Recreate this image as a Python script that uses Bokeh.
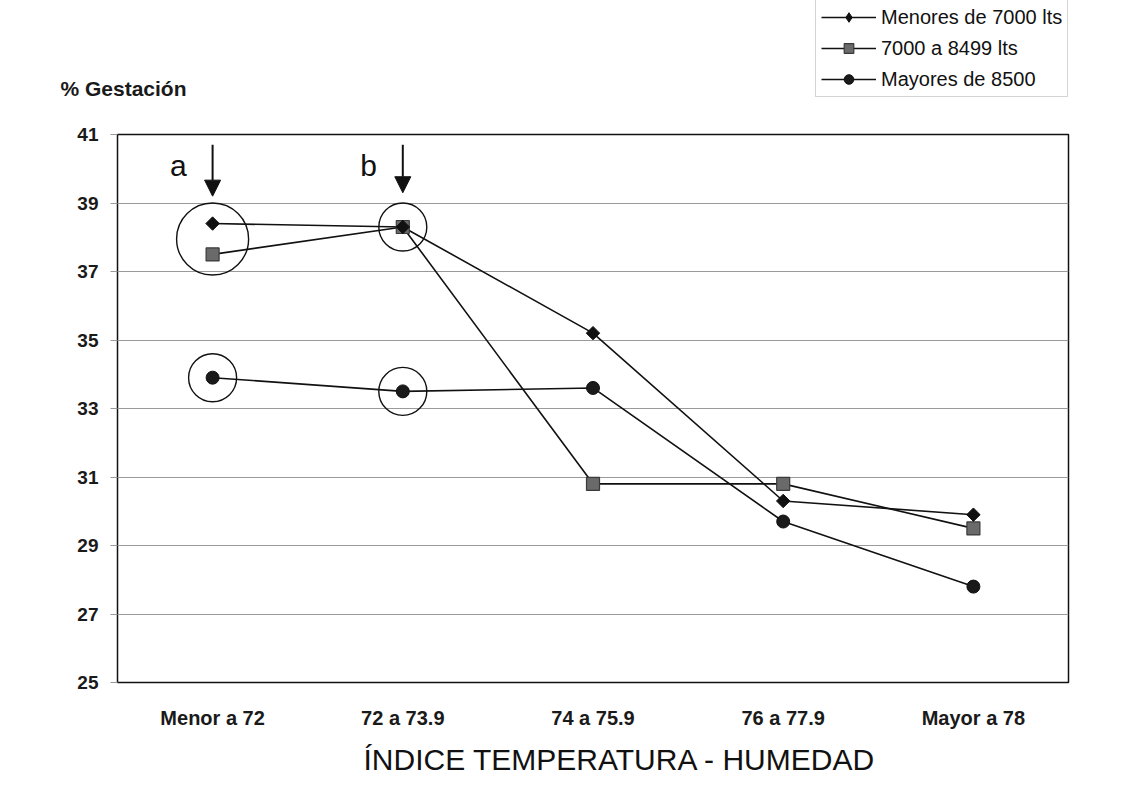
import math
from bokeh.plotting import figure
from bokeh.layouts import column
from bokeh.models import (FactorRange, Range1d, FixedTicker, Label, Arrow,
                          NormalHead, Legend, LegendItem, Title)
from bokeh.embed import file_html
from bokeh.resources import INLINE

# ---------------- data ----------------
categories = ["Menor a 72", "72 a 73.9", "74 a 75.9", "76 a 77.9", "Mayor a 78"]
menores_7000 = [38.4, 38.3, 35.2, 30.3, 29.9]
de_7000_a_8499 = [37.5, 38.3, 30.8, 30.8, 29.5]
mayores_8500 = [33.9, 33.5, 33.6, 29.7, 27.8]
series_names = ["Menores de 7000 lts", "7000 a 8499 lts", "Mayores de 8500"]
y_ticks = [25, 27, 29, 31, 33, 35, 37, 39, 41]
y_title = "% Gestación"
x_title = "ÍNDICE TEMPERATURA - HUMEDAD"
group_labels = ["a", "b"]

FONT = "Liberation Sans"
W = 1132
TOP_H = 122
MAIN_H = 811 - TOP_H
ML, MR, MT, MB = 117, 64, 12, 129

LINE = "#111111"
all_series = (menores_7000, de_7000_a_8499, mayores_8500)
main_styles = [dict(marker="square", angle=math.pi / 4, size=9.5, fill_color="#111111", line_color="#111111", line_width=1),
               dict(marker="square", angle=0.0, size=13, fill_color="#6a6a6a", line_color="#3a3a3a", line_width=1.2),
               dict(marker="circle", angle=0.0, size=13, fill_color="#1a1a1a", line_color="#111111", line_width=1)]
legend_styles = [dict(marker="diamond", size=15, fill_color="#111111", line_color="#111111", line_width=1),
                 dict(marker="square", size=12, fill_color="#6a6a6a", line_color="#3a3a3a", line_width=1.2),
                 dict(marker="circle", size=13, fill_color="#1a1a1a", line_color="#111111", line_width=1)]

# ---------------- header strip (y title + legend) ----------------
# x range of the strip lies away from the series index positions, so the
# legend renderers hold real data but draw nothing inside the strip
top = figure(width=W, height=TOP_H, x_range=Range1d(100, 101), y_range=Range1d(TOP_H, 0),
             x_axis_type=None, output_backend="svg",
             toolbar_location=None, min_border=0)
top.outline_line_color = None
top.grid.visible = False
top.background_fill_color = "white"
top.border_fill_color = "white"
# the y-title is drawn as the single tick label of the strip's own axis
top.yaxis.ticker = FixedTicker(ticks=[88])
top.yaxis.major_label_overrides = {88: y_title}
top.yaxis.axis_line_color = None
top.yaxis.major_tick_line_color = None
top.yaxis.minor_tick_line_color = None
top.yaxis.major_tick_out = 0
top.yaxis.major_tick_in = 0
top.yaxis.major_label_standoff = -69
top.yaxis.major_label_text_font = FONT
top.yaxis.major_label_text_font_size = "21px"
top.yaxis.major_label_text_font_style = "bold"
top.yaxis.major_label_text_color = "#1a1a1a"

idx = list(range(len(categories)))
items = []
for name, vals, st in zip(series_names, all_series, legend_styles):
    lr = top.line(x=idx, y=vals, line_color=LINE, line_width=1.6)
    sr = top.scatter(x=idx, y=vals, **st)
    items.append(LegendItem(label=name, renderers=[lr, sr]))

legend = Legend(items=items, location=(698, TOP_H - 97), orientation="vertical")
legend.label_text_font = FONT
legend.label_text_font_size = "20px"
legend.label_text_color = "#111111"
legend.glyph_width = 55
legend.glyph_height = 24
legend.label_height = 24
legend.label_standoff = 5
legend.spacing = 7
legend.padding = 5
legend.margin = 0
legend.border_line_color = "#aaaaaa"
legend.border_line_width = 1
legend.background_fill_color = "white"
legend.background_fill_alpha = 1
top.add_layout(legend)

# ---------------- main chart ----------------
p = figure(width=W, height=MAIN_H,
           x_range=FactorRange(*categories), y_range=Range1d(y_ticks[0], y_ticks[-1]),
           output_backend="svg", toolbar_location=None,
           min_border_left=ML, min_border_right=MR,
           min_border_top=MT, min_border_bottom=MB)

p.background_fill_color = "white"
p.border_fill_color = "white"
p.outline_line_color = LINE
p.outline_line_width = 1.5

p.xgrid.visible = False
p.ygrid.grid_line_color = "#9a9a9a"
p.ygrid.grid_line_width = 1

p.yaxis.ticker = FixedTicker(ticks=y_ticks)
p.yaxis.axis_line_color = None
p.yaxis.major_tick_line_color = "#9a9a9a"
p.yaxis.major_tick_out = 7
p.yaxis.major_tick_in = 0
p.yaxis.minor_tick_line_color = None
p.yaxis.major_label_standoff = 12
p.yaxis.major_label_text_font = FONT
p.yaxis.major_label_text_font_style = "bold"
p.yaxis.major_label_text_font_size = "19px"
p.yaxis.major_label_text_color = "#1a1a1a"

p.xaxis.axis_line_color = None
p.xaxis.major_tick_line_color = None
p.xaxis.major_tick_out = 0
p.xaxis.major_label_standoff = 24
p.xaxis.major_label_text_font = FONT
p.xaxis.major_label_text_font_style = "bold"
p.xaxis.major_label_text_font_size = "20px"
p.xaxis.major_label_text_color = "#1a1a1a"

p.add_layout(Title(text=x_title, align="left", offset=246, text_font=FONT,
                   text_font_size="30px", text_font_style="normal",
                   text_color="#111111", standoff=19), "below")

for vals in all_series:
    p.line(categories, vals, line_color=LINE, line_width=1.6)
for vals, st in zip((de_7000_a_8499, menores_7000, mayores_8500),
                    (main_styles[1], main_styles[0], main_styles[2])):
    p.scatter(categories, vals, **st)

# circles highlighting groups a and b
p.scatter([categories[0]], [(menores_7000[0] + de_7000_a_8499[0]) / 2], marker="circle",
          size=72, fill_color=None, line_color=LINE, line_width=1.4)
p.scatter([categories[1]], [de_7000_a_8499[1]], marker="circle",
          size=48, fill_color=None, line_color=LINE, line_width=1.4)
p.scatter(categories[:2], mayores_8500[:2], marker="circle",
          size=48, fill_color=None, line_color=LINE, line_width=1.4)

# arrows and letters
for i, lab in enumerate(group_labels):
    xc = i + 0.5
    p.add_layout(Arrow(end=NormalHead(size=16, fill_color=LINE, line_color=LINE),
                       x_start=xc, y_start=40.7, x_end=xc, y_end=39.2 + 0.1 * i,
                       line_color=LINE, line_width=2))
    p.add_layout(Label(x=xc - 0.18, y=40.09, text=lab, text_font=FONT,
                       text_font_size="30px", text_align="center",
                       text_baseline="middle", text_color=LINE))

open("out.html", "w").write(file_html(column(top, p, spacing=0), INLINE))
